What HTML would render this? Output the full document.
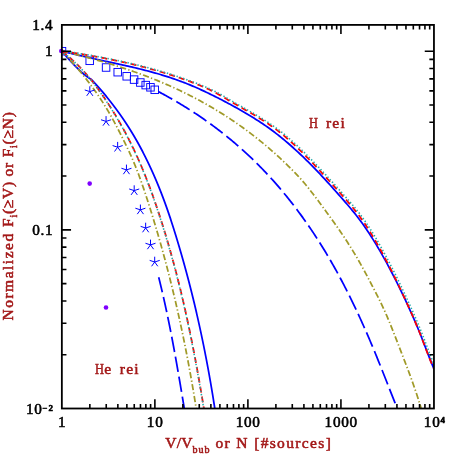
<!DOCTYPE html>
<html><head><meta charset="utf-8"><title>plot</title>
<style>html,body{margin:0;padding:0;background:#fff;}svg{display:block;will-change:transform;}text{font-family:"Liberation Serif",serif;font-weight:normal;stroke-width:0.55px;stroke-linejoin:round;paint-order:stroke fill;}</style></head><body>
<svg width="458" height="458" viewBox="0 0 458 458">
<rect x="0" y="0" width="458" height="458" fill="#ffffff"/>
<defs><clipPath id="clip"><rect x="61.85" y="24.90" width="372.10" height="383.60"/></clipPath></defs>
<g clip-path="url(#clip)" fill="none" stroke="#0000ff" stroke-width="0.95">
<rect x="58.25" y="47.45" width="7.50" height="7.50"/>
<rect x="85.95" y="57.05" width="7.50" height="7.50"/>
<rect x="102.33" y="63.75" width="7.50" height="7.50"/>
<rect x="113.96" y="68.45" width="7.50" height="7.50"/>
<rect x="122.97" y="72.55" width="7.50" height="7.50"/>
<rect x="130.34" y="75.85" width="7.50" height="7.50"/>
<rect x="136.57" y="78.75" width="7.50" height="7.50"/>
<rect x="141.96" y="81.35" width="7.50" height="7.50"/>
<rect x="146.72" y="83.55" width="7.50" height="7.50"/>
<rect x="150.97" y="86.05" width="7.50" height="7.50"/>
</g>
<g clip-path="url(#clip)" fill="none" stroke-linecap="butt" stroke-linejoin="round">
<path d="M61.85 51.00 L63.55 51.46 L65.25 51.91 L66.95 52.35 L68.65 52.79 L70.35 53.23 L72.05 53.65 L73.75 54.07 L75.44 54.49 L77.14 54.90 L78.84 55.30 L80.54 55.70 L82.24 56.10 L83.94 56.49 L85.64 56.88 L87.34 57.26 L89.04 57.64 L90.74 58.02 L92.44 58.40 L94.14 58.77 L95.84 59.14 L97.54 59.51 L99.23 59.88 L100.93 60.25 L102.63 60.61 L104.33 60.98 L106.03 61.34 L107.73 61.71 L109.43 62.07 L111.13 62.44 L112.83 62.81 L114.53 63.17 L116.23 63.54 L117.93 63.91 L119.63 64.29 L121.33 64.66 L123.03 65.04 L124.72 65.42 L126.42 65.80 L128.12 66.19 L129.82 66.58 L131.52 66.97 L133.22 67.37 L134.92 67.77 L136.62 68.18 L138.32 68.59 L140.02 69.01 L141.72 69.43 L143.42 69.86 L145.12 70.29 L146.82 70.73 L148.52 71.18 L150.21 71.63 L151.91 72.10 L153.61 72.57 L155.31 73.04 L157.01 73.53 L158.71 74.02 L160.41 74.52 L162.11 75.04 L163.81 75.56 L165.51 76.09 L167.21 76.63 L168.91 77.18 L170.61 77.74 L172.31 78.31 L174.00 78.89 L175.70 79.48 L177.40 80.09 L179.10 80.70 L180.80 81.33 L182.50 81.97 L184.20 82.62 L185.90 83.29 L187.60 83.97 L189.30 84.66 L191.00 85.36 L192.70 86.08 L194.40 86.81 L196.10 87.55 L197.80 88.30 L199.49 89.06 L201.19 89.83 L202.89 90.61 L204.59 91.41 L206.29 92.21 L207.99 93.02 L209.69 93.84 L211.39 94.67 L213.09 95.51 L214.79 96.36 L216.49 97.22 L218.19 98.08 L219.89 98.96 L221.59 99.84 L223.28 100.73 L224.98 101.62 L226.68 102.52 L228.38 103.43 L230.08 104.34 L231.78 105.27 L233.48 106.19 L235.18 107.13 L236.88 108.07 L238.58 109.02 L240.28 109.98 L241.98 110.95 L243.68 111.93 L245.38 112.92 L247.08 113.93 L248.77 114.94 L250.47 115.97 L252.17 117.01 L253.87 118.07 L255.57 119.14 L257.27 120.22 L258.97 121.32 L260.67 122.44 L262.37 123.57 L264.07 124.73 L265.77 125.90 L267.47 127.09 L269.17 128.30 L270.87 129.53 L272.57 130.78 L274.26 132.05 L275.96 133.34 L277.66 134.66 L279.36 136.00 L281.06 137.36 L282.76 138.75 L284.46 140.15 L286.16 141.58 L287.86 143.03 L289.56 144.50 L291.26 145.99 L292.96 147.51 L294.66 149.04 L296.36 150.59 L298.05 152.16 L299.75 153.75 L301.45 155.36 L303.15 156.99 L304.85 158.64 L306.55 160.30 L308.25 161.99 L309.95 163.69 L311.65 165.40 L313.35 167.13 L315.05 168.88 L316.75 170.65 L318.45 172.43 L320.15 174.22 L321.85 176.03 L323.54 177.86 L325.24 179.70 L326.94 181.55 L328.64 183.41 L330.34 185.28 L332.04 187.17 L333.74 189.06 L335.44 190.97 L337.14 192.88 L338.84 194.80 L340.54 196.73 L342.24 198.67 L343.94 200.61 L345.64 202.57 L347.33 204.53 L349.03 206.52 L350.73 208.53 L352.43 210.57 L354.13 212.65 L355.83 214.78 L357.53 216.96 L359.23 219.20 L360.93 221.50 L362.63 223.85 L364.33 226.26 L366.03 228.72 L367.73 231.24 L369.43 233.82 L371.13 236.45 L372.82 239.13 L374.52 241.86 L376.22 244.65 L377.92 247.49 L379.62 250.38 L381.32 253.32 L383.02 256.31 L384.72 259.35 L386.42 262.44 L388.12 265.58 L389.82 268.77 L391.52 272.00 L393.22 275.28 L394.92 278.60 L396.62 281.97 L398.31 285.39 L400.01 288.85 L401.71 292.35 L403.41 295.90 L405.11 299.49 L406.81 303.12 L408.51 306.80 L410.21 310.54 L411.91 314.34 L413.61 318.20 L415.31 322.13 L417.01 326.15 L418.71 330.24 L420.41 334.43 L422.10 338.71 L423.80 343.09 L425.50 347.53 L427.20 351.97 L428.90 356.37 L430.60 360.68 L432.30 364.84 L434.00 368.80" stroke="#0000ff" stroke-width="1.75"/>
<path d="M61.85 51.00 L62.87 52.26 L63.88 53.50 L64.90 54.72 L65.91 55.92 L66.93 57.09 L67.94 58.25 L68.96 59.38 L69.97 60.50 L70.99 61.60 L72.01 62.69 L73.02 63.76 L74.04 64.81 L75.05 65.85 L76.07 66.87 L77.08 67.89 L78.10 68.90 L79.11 69.90 L80.13 70.88 L81.14 71.84 L82.16 72.76 L83.18 73.64 L84.19 74.48 L85.21 75.28 L86.22 76.04 L87.24 76.77 L88.25 77.47 L89.27 78.15 L90.28 78.79 L91.30 79.40 L92.71 80.90 L94.11 82.41 L95.49 83.91 L96.85 85.41 L98.20 86.91 L99.52 88.42 L100.84 89.92 L102.13 91.42 L103.41 92.92 L104.67 94.43 L105.92 95.93 L107.15 97.43 L108.37 98.94 L109.57 100.44 L110.75 101.94 L111.92 103.44 L113.08 104.95 L114.22 106.45 L115.35 107.95 L116.46 109.45 L117.56 110.96 L118.64 112.46 L119.72 113.96 L120.77 115.47 L121.82 116.97 L122.85 118.47 L123.87 119.97 L124.87 121.48 L125.87 122.98 L126.85 124.48 L127.82 125.98 L128.77 127.49 L129.72 128.99 L130.65 130.49 L131.57 132.00 L132.48 133.50 L133.38 135.00 L134.27 136.50 L135.15 138.01 L136.01 139.51 L136.87 141.01 L137.71 142.52 L138.55 144.02 L139.38 145.52 L140.19 147.02 L141.00 148.53 L141.80 150.03 L142.59 151.53 L143.37 153.03 L144.14 154.54 L144.90 156.04 L145.65 157.54 L146.40 159.05 L147.13 160.55 L147.86 162.05 L148.58 163.55 L149.30 165.06 L150.00 166.56 L150.70 168.06 L151.39 169.56 L152.07 171.07 L152.75 172.57 L153.42 174.07 L154.08 175.58 L154.73 177.08 L155.38 178.58 L156.02 180.08 L156.65 181.59 L157.28 183.09 L157.90 184.59 L158.51 186.09 L159.12 187.60 L159.72 189.10 L160.32 190.60 L160.91 192.11 L161.49 193.61 L162.07 195.11 L162.64 196.61 L163.21 198.12 L163.77 199.62 L164.32 201.12 L164.88 202.62 L165.42 204.13 L165.96 205.63 L166.50 207.13 L167.03 208.64 L167.55 210.14 L168.07 211.64 L168.59 213.14 L169.10 214.65 L169.61 216.15 L170.12 217.65 L170.62 219.15 L171.11 220.66 L171.60 222.16 L172.09 223.66 L172.58 225.17 L173.06 226.67 L173.54 228.17 L174.01 229.67 L174.48 231.18 L174.95 232.68 L175.41 234.18 L175.88 235.68 L176.34 237.19 L176.79 238.69 L177.25 240.19 L177.70 241.70 L178.15 243.20 L178.59 244.70 L179.04 246.20 L179.48 247.71 L179.92 249.21 L180.36 250.71 L180.79 252.22 L181.23 253.72 L181.66 255.22 L182.09 256.72 L182.51 258.23 L182.94 259.73 L183.36 261.23 L183.78 262.73 L184.19 264.24 L184.61 265.74 L185.02 267.24 L185.43 268.75 L185.84 270.25 L186.25 271.75 L186.65 273.25 L187.05 274.76 L187.45 276.26 L187.85 277.76 L188.24 279.26 L188.64 280.77 L189.03 282.27 L189.42 283.77 L189.80 285.28 L190.19 286.78 L190.57 288.28 L190.95 289.78 L191.33 291.29 L191.70 292.79 L192.08 294.29 L192.45 295.79 L192.82 297.30 L193.19 298.80 L193.55 300.30 L193.92 301.81 L194.28 303.31 L194.64 304.81 L194.99 306.31 L195.35 307.82 L195.70 309.32 L196.05 310.82 L196.40 312.32 L196.75 313.83 L197.09 315.33 L197.44 316.83 L197.78 318.34 L198.12 319.84 L198.45 321.34 L198.79 322.84 L199.12 324.35 L199.45 325.85 L199.78 327.35 L200.11 328.85 L200.43 330.36 L200.76 331.86 L201.08 333.36 L201.40 334.87 L201.71 336.37 L202.03 337.87 L202.34 339.37 L202.65 340.88 L202.96 342.38 L203.27 343.88 L203.58 345.38 L203.88 346.89 L204.18 348.39 L204.48 349.89 L204.78 351.40 L205.08 352.90 L205.37 354.40 L205.66 355.90 L205.96 357.41 L206.25 358.91 L206.53 360.41 L206.82 361.92 L207.10 363.42 L207.38 364.92 L207.66 366.42 L207.94 367.93 L208.22 369.43 L208.49 370.93 L208.77 372.43 L209.04 373.94 L209.31 375.44 L209.57 376.94 L209.84 378.45 L210.10 379.95 L210.37 381.45 L210.63 382.95 L210.89 384.46 L211.14 385.96 L211.40 387.46 L211.65 388.96 L211.90 390.47 L212.15 391.97 L212.40 393.47 L212.65 394.98 L212.90 396.48 L213.14 397.98 L213.38 399.48 L213.62 400.99 L213.86 402.49 L214.10 403.99 L214.33 405.49 L214.57 407.00 L214.80 408.50" stroke="#0000ff" stroke-width="1.75"/>
<path d="M158.60 91.70 L159.69 92.28 L160.78 92.86 L161.87 93.44 L162.96 94.03 L164.05 94.62 L165.14 95.22 L166.23 95.82 L167.32 96.42 L168.41 97.03 L169.50 97.64 L170.59 98.26 L171.68 98.88 L172.77 99.50 L173.86 100.13 L174.95 100.76 L176.04 101.40 L177.13 102.04 L178.22 102.68 L179.31 103.33 L180.40 103.99 L181.49 104.65 L182.58 105.31 L183.67 105.98 L184.76 106.65 L185.85 107.33 L186.94 108.01 L188.03 108.69 L189.12 109.38 L190.21 110.08 L191.30 110.78 L192.39 111.48 L193.48 112.19 L194.57 112.91 L195.66 113.63 L196.75 114.35 L197.84 115.08 L198.93 115.82 L200.02 116.56 L201.11 117.30 L202.20 118.05 L203.29 118.81 L204.38 119.57 L205.47 120.34 L206.56 121.11 L207.65 121.89 L208.74 122.67 L209.83 123.46 L210.92 124.25 L212.01 125.05 L213.10 125.86 L214.19 126.67 L215.28 127.48 L216.37 128.31 L217.46 129.13 L218.55 129.97 L219.64 130.81 L220.73 131.65 L221.82 132.50 L222.91 133.36 L224.00 134.22 L225.09 135.09 L226.18 135.97 L227.27 136.85 L228.36 137.74 L229.45 138.63 L230.54 139.54 L231.63 140.44 L232.72 141.36 L233.81 142.28 L234.90 143.20 L235.99 144.13 L237.08 145.07 L238.17 146.02 L239.26 146.98 L240.35 147.94 L241.44 148.90 L242.53 149.88 L243.62 150.86 L244.71 151.85 L245.80 152.85 L246.89 153.85 L247.98 154.87 L249.07 155.89 L250.16 156.91 L251.25 157.95 L252.34 158.99 L253.43 160.05 L254.52 161.11 L255.61 162.17 L256.70 163.25 L257.79 164.34 L258.88 165.43 L259.97 166.53 L261.06 167.64 L262.15 168.76 L263.24 169.89 L264.33 171.03 L265.42 172.17 L266.51 173.33 L267.60 174.49 L268.69 175.67 L269.78 176.85 L270.87 178.04 L271.96 179.25 L273.05 180.46 L274.14 181.68 L275.23 182.91 L276.32 184.15 L277.41 185.40 L278.49 186.66 L279.58 187.94 L280.67 189.22 L281.76 190.51 L282.85 191.81 L283.94 193.13 L285.03 194.45 L286.12 195.78 L287.21 197.13 L288.30 198.48 L289.39 199.85 L290.48 201.23 L291.57 202.62 L292.66 204.02 L293.75 205.43 L294.84 206.85 L295.93 208.28 L297.02 209.73 L298.11 211.19 L299.20 212.66 L300.29 214.14 L301.38 215.63 L302.47 217.13 L303.56 218.65 L304.65 220.18 L305.74 221.72 L306.83 223.28 L307.92 224.84 L309.01 226.42 L310.10 228.02 L311.19 229.62 L312.28 231.24 L313.37 232.88 L314.46 234.53 L315.55 236.19 L316.64 237.87 L317.73 239.56 L318.82 241.26 L319.91 242.99 L321.00 244.72 L322.09 246.47 L323.18 248.24 L324.27 250.02 L325.36 251.82 L326.45 253.63 L327.54 255.46 L328.63 257.30 L329.72 259.17 L330.81 261.04 L331.90 262.94 L332.99 264.85 L334.08 266.78 L335.17 268.72 L336.26 270.69 L337.35 272.67 L338.44 274.67 L339.53 276.68 L340.62 278.72 L341.71 280.77 L342.80 282.84 L343.89 284.93 L344.98 287.03 L346.07 289.16 L347.16 291.30 L348.25 293.47 L349.34 295.65 L350.43 297.85 L351.52 300.07 L352.61 302.31 L353.70 304.56 L354.79 306.84 L355.88 309.13 L356.97 311.45 L358.06 313.78 L359.15 316.13 L360.24 318.51 L361.33 320.90 L362.42 323.31 L363.51 325.74 L364.60 328.19 L365.69 330.65 L366.78 333.14 L367.87 335.65 L368.96 338.18 L370.05 340.73 L371.14 343.30 L372.23 345.88 L373.32 348.49 L374.41 351.12 L375.50 353.77 L376.59 356.43 L377.68 359.12 L378.77 361.81 L379.86 364.53 L380.95 367.25 L382.04 369.99 L383.13 372.73 L384.22 375.49 L385.31 378.25 L386.40 381.01 L387.49 383.78 L388.58 386.55 L389.67 389.32 L390.76 392.09 L391.85 394.86 L392.94 397.62 L394.03 400.38 L395.12 403.13 L396.21 405.87 L397.30 408.60" stroke="#0000ff" stroke-width="1.75" stroke-dasharray="15.5 4.8"/>
<path d="M158.70 277.25 L158.85 277.85 L159.00 278.45 L159.15 279.05 L159.30 279.65 L159.45 280.25 L159.59 280.85 L159.74 281.45 L159.89 282.04 L160.03 282.64 L160.18 283.24 L160.32 283.84 L160.47 284.44 L160.61 285.04 L160.76 285.64 L160.90 286.24 L161.05 286.84 L161.19 287.44 L161.33 288.04 L161.47 288.64 L161.62 289.24 L161.76 289.84 L161.90 290.43 L162.04 291.03 L162.18 291.63 L162.32 292.23 L162.46 292.83 L162.60 293.43 L162.73 294.03 L162.87 294.63 L163.01 295.23 L163.15 295.83 L163.28 296.43 L163.42 297.03 L163.56 297.63 L163.69 298.23 L163.83 298.83 L163.96 299.42 L164.10 300.02 L164.23 300.62 L164.37 301.22 L164.50 301.82 L164.63 302.42 L164.77 303.02 L164.90 303.62 L165.03 304.22 L165.16 304.82 L165.29 305.42 L165.42 306.02 L165.55 306.62 L165.68 307.22 L165.81 307.82 L165.94 308.41 L166.07 309.01 L166.20 309.61 L166.33 310.21 L166.46 310.81 L166.59 311.41 L166.71 312.01 L166.84 312.61 L166.97 313.21 L167.09 313.81 L167.22 314.41 L167.35 315.01 L167.47 315.61 L167.60 316.21 L167.72 316.80 L167.85 317.40 L167.97 318.00 L168.09 318.60 L168.22 319.20 L168.34 319.80 L168.46 320.40 L168.59 321.00 L168.71 321.60 L168.83 322.20 L168.95 322.80 L169.08 323.40 L169.20 324.00 L169.32 324.60 L169.44 325.20 L169.56 325.79 L169.68 326.39 L169.80 326.99 L169.92 327.59 L170.04 328.19 L170.16 328.79 L170.27 329.39 L170.39 329.99 L170.51 330.59 L170.63 331.19 L170.75 331.79 L170.86 332.39 L170.98 332.99 L171.10 333.59 L171.21 334.18 L171.33 334.78 L171.45 335.38 L171.56 335.98 L171.68 336.58 L171.79 337.18 L171.91 337.78 L172.02 338.38 L172.14 338.98 L172.25 339.58 L172.36 340.18 L172.48 340.78 L172.59 341.38 L172.71 341.98 L172.82 342.58 L172.93 343.17 L173.04 343.77 L173.16 344.37 L173.27 344.97 L173.38 345.57 L173.49 346.17 L173.60 346.77 L173.71 347.37 L173.83 347.97 L173.94 348.57 L174.05 349.17 L174.16 349.77 L174.27 350.37 L174.38 350.97 L174.49 351.57 L174.60 352.16 L174.71 352.76 L174.82 353.36 L174.93 353.96 L175.03 354.56 L175.14 355.16 L175.25 355.76 L175.36 356.36 L175.47 356.96 L175.58 357.56 L175.68 358.16 L175.79 358.76 L175.90 359.36 L176.01 359.96 L176.11 360.55 L176.22 361.15 L176.33 361.75 L176.43 362.35 L176.54 362.95 L176.65 363.55 L176.75 364.15 L176.86 364.75 L176.96 365.35 L177.07 365.95 L177.17 366.55 L177.28 367.15 L177.38 367.75 L177.49 368.35 L177.59 368.95 L177.70 369.54 L177.80 370.14 L177.91 370.74 L178.01 371.34 L178.12 371.94 L178.22 372.54 L178.32 373.14 L178.43 373.74 L178.53 374.34 L178.63 374.94 L178.74 375.54 L178.84 376.14 L178.94 376.74 L179.05 377.34 L179.15 377.93 L179.25 378.53 L179.36 379.13 L179.46 379.73 L179.56 380.33 L179.66 380.93 L179.77 381.53 L179.87 382.13 L179.97 382.73 L180.07 383.33 L180.17 383.93 L180.28 384.53 L180.38 385.13 L180.48 385.73 L180.58 386.33 L180.68 386.92 L180.78 387.52 L180.89 388.12 L180.99 388.72 L181.09 389.32 L181.19 389.92 L181.29 390.52 L181.39 391.12 L181.49 391.72 L181.59 392.32 L181.69 392.92 L181.79 393.52 L181.90 394.12 L182.00 394.72 L182.10 395.32 L182.20 395.91 L182.30 396.51 L182.40 397.11 L182.50 397.71 L182.60 398.31 L182.70 398.91 L182.80 399.51 L182.90 400.11 L183.00 400.71 L183.10 401.31 L183.20 401.91 L183.30 402.51 L183.40 403.11 L183.50 403.71 L183.60 404.30 L183.70 404.90 L183.80 405.50 L183.90 406.10 L184.00 406.70 L184.10 407.30 L184.20 407.90 L184.30 408.50" stroke="#0000ff" stroke-width="1.75" stroke-dasharray="15.5 4.8"/>
<path d="M61.85 51.00 L63.49 51.39 L65.13 51.79 L66.77 52.19 L68.41 52.59 L70.05 52.99 L71.70 53.40 L73.34 53.81 L74.98 54.22 L76.62 54.63 L78.26 55.05 L79.90 55.47 L81.54 55.90 L83.18 56.32 L84.82 56.76 L86.46 57.19 L88.10 57.63 L89.74 58.07 L91.39 58.52 L93.03 58.96 L94.67 59.42 L96.31 59.88 L97.95 60.34 L99.59 60.80 L101.23 61.27 L102.87 61.75 L104.51 62.23 L106.15 62.71 L107.79 63.20 L109.44 63.69 L111.08 64.19 L112.72 64.69 L114.36 65.20 L116.00 65.71 L117.64 66.23 L119.28 66.75 L120.92 67.28 L122.56 67.81 L124.20 68.35 L125.84 68.90 L127.48 69.45 L129.13 70.00 L130.77 70.56 L132.41 71.13 L134.05 71.71 L135.69 72.29 L137.33 72.87 L138.97 73.46 L140.61 74.06 L142.25 74.67 L143.89 75.28 L145.53 75.90 L147.18 76.52 L148.82 77.16 L150.46 77.79 L152.10 78.44 L153.74 79.09 L155.38 79.75 L157.02 80.42 L158.66 81.10 L160.30 81.78 L161.94 82.47 L163.58 83.16 L165.22 83.87 L166.87 84.58 L168.51 85.30 L170.15 86.03 L171.79 86.77 L173.43 87.51 L175.07 88.26 L176.71 89.02 L178.35 89.79 L179.99 90.57 L181.63 91.36 L183.27 92.15 L184.92 92.96 L186.56 93.77 L188.20 94.59 L189.84 95.42 L191.48 96.26 L193.12 97.11 L194.76 97.97 L196.40 98.83 L198.04 99.71 L199.68 100.60 L201.32 101.49 L202.96 102.40 L204.61 103.31 L206.25 104.24 L207.89 105.17 L209.53 106.12 L211.17 107.07 L212.81 108.04 L214.45 109.01 L216.09 110.00 L217.73 110.99 L219.37 112.00 L221.01 113.02 L222.66 114.05 L224.30 115.09 L225.94 116.14 L227.58 117.20 L229.22 118.27 L230.86 119.36 L232.50 120.45 L234.14 121.56 L235.78 122.68 L237.42 123.82 L239.06 124.96 L240.70 126.12 L242.35 127.29 L243.99 128.48 L245.63 129.67 L247.27 130.89 L248.91 132.11 L250.55 133.35 L252.19 134.60 L253.83 135.87 L255.47 137.15 L257.11 138.45 L258.75 139.76 L260.39 141.08 L262.04 142.42 L263.68 143.78 L265.32 145.15 L266.96 146.54 L268.60 147.94 L270.24 149.36 L271.88 150.79 L273.52 152.24 L275.16 153.71 L276.80 155.20 L278.44 156.70 L280.09 158.21 L281.73 159.75 L283.37 161.30 L285.01 162.87 L286.65 164.46 L288.29 166.07 L289.93 167.69 L291.57 169.33 L293.21 170.99 L294.85 172.67 L296.49 174.37 L298.13 176.11 L299.78 177.88 L301.42 179.71 L303.06 181.59 L304.70 183.52 L306.34 185.50 L307.98 187.52 L309.62 189.58 L311.26 191.67 L312.90 193.79 L314.54 195.94 L316.18 198.11 L317.83 200.30 L319.47 202.51 L321.11 204.73 L322.75 206.95 L324.39 209.18 L326.03 211.42 L327.67 213.66 L329.31 215.92 L330.95 218.19 L332.59 220.47 L334.23 222.77 L335.87 225.10 L337.52 227.44 L339.16 229.81 L340.80 232.21 L342.44 234.63 L344.08 237.09 L345.72 239.58 L347.36 242.10 L349.00 244.66 L350.64 247.27 L352.28 249.91 L353.92 252.60 L355.57 255.34 L357.21 258.12 L358.85 260.96 L360.49 263.85 L362.13 266.79 L363.77 269.79 L365.41 272.85 L367.05 275.95 L368.69 279.07 L370.33 282.20 L371.97 285.33 L373.61 288.48 L375.26 291.66 L376.90 294.87 L378.54 298.14 L380.18 301.47 L381.82 304.88 L383.46 308.38 L385.10 311.99 L386.74 315.71 L388.38 319.56 L390.02 323.54 L391.66 327.61 L393.31 331.75 L394.95 335.95 L396.59 340.18 L398.23 344.42 L399.87 348.66 L401.51 352.89 L403.15 357.12 L404.79 361.37 L406.43 365.65 L408.07 369.98 L409.71 374.38 L411.35 378.87 L413.00 383.46 L414.64 388.18 L416.28 393.03 L417.92 398.04 L419.56 403.22 L421.20 408.60" stroke="#a09a28" stroke-width="1.75" stroke-dasharray="6.2 2.3 1.3 2.3"/>
<path d="M61.85 51.00 L63.43 52.63 L64.98 54.26 L66.51 55.90 L68.02 57.53 L69.51 59.16 L70.98 60.79 L72.43 62.43 L73.86 64.06 L75.27 65.69 L76.66 67.32 L78.04 68.96 L79.39 70.59 L80.74 72.22 L82.06 73.85 L83.37 75.49 L84.66 77.12 L85.94 78.75 L87.21 80.38 L88.46 82.02 L89.69 83.65 L90.92 85.28 L92.13 86.91 L93.32 88.55 L94.50 90.18 L95.66 91.81 L96.81 93.44 L97.94 95.08 L99.05 96.71 L100.14 98.34 L101.22 99.97 L102.28 101.61 L103.32 103.24 L104.35 104.87 L105.36 106.50 L106.35 108.13 L107.34 109.77 L108.30 111.40 L109.26 113.03 L110.19 114.66 L111.12 116.30 L112.03 117.93 L112.93 119.56 L113.83 121.19 L114.70 122.83 L115.57 124.46 L116.44 126.09 L117.29 127.72 L118.14 129.36 L118.97 130.99 L119.81 132.62 L120.64 134.25 L121.46 135.89 L122.28 137.52 L123.09 139.15 L123.90 140.78 L124.71 142.42 L125.50 144.05 L126.29 145.68 L127.07 147.31 L127.85 148.95 L128.61 150.58 L129.37 152.21 L130.11 153.84 L130.84 155.47 L131.57 157.11 L132.28 158.74 L132.98 160.37 L133.67 162.00 L134.34 163.64 L135.01 165.27 L135.67 166.90 L136.32 168.53 L136.96 170.17 L137.59 171.80 L138.22 173.43 L138.83 175.06 L139.44 176.70 L140.04 178.33 L140.63 179.96 L141.21 181.59 L141.79 183.23 L142.36 184.86 L142.93 186.49 L143.49 188.12 L144.04 189.76 L144.59 191.39 L145.14 193.02 L145.68 194.65 L146.21 196.29 L146.74 197.92 L147.27 199.55 L147.80 201.18 L148.32 202.82 L148.84 204.45 L149.36 206.08 L149.87 207.71 L150.38 209.34 L150.89 210.98 L151.40 212.61 L151.91 214.24 L152.41 215.87 L152.91 217.51 L153.41 219.14 L153.90 220.77 L154.39 222.40 L154.88 224.04 L155.37 225.67 L155.86 227.30 L156.34 228.93 L156.82 230.57 L157.30 232.20 L157.77 233.83 L158.25 235.46 L158.72 237.10 L159.19 238.73 L159.65 240.36 L160.12 241.99 L160.58 243.63 L161.04 245.26 L161.49 246.89 L161.95 248.52 L162.40 250.16 L162.85 251.79 L163.30 253.42 L163.74 255.05 L164.18 256.68 L164.62 258.32 L165.06 259.95 L165.50 261.58 L165.93 263.21 L166.36 264.85 L166.79 266.48 L167.22 268.11 L167.64 269.74 L168.06 271.38 L168.48 273.01 L168.90 274.64 L169.32 276.27 L169.73 277.91 L170.14 279.54 L170.55 281.17 L170.96 282.80 L171.36 284.44 L171.76 286.07 L172.16 287.70 L172.56 289.33 L172.96 290.97 L173.35 292.60 L173.74 294.23 L174.13 295.86 L174.52 297.50 L174.90 299.13 L175.29 300.76 L175.67 302.39 L176.05 304.03 L176.42 305.66 L176.80 307.29 L177.17 308.92 L177.54 310.55 L177.91 312.19 L178.28 313.82 L178.64 315.45 L179.00 317.08 L179.36 318.72 L179.72 320.35 L180.08 321.98 L180.43 323.61 L180.78 325.25 L181.13 326.88 L181.48 328.51 L181.82 330.14 L182.17 331.78 L182.51 333.41 L182.85 335.04 L183.19 336.67 L183.52 338.31 L183.86 339.94 L184.19 341.57 L184.52 343.20 L184.85 344.84 L185.17 346.47 L185.50 348.10 L185.82 349.73 L186.14 351.37 L186.46 353.00 L186.78 354.63 L187.09 356.26 L187.40 357.89 L187.71 359.53 L188.02 361.16 L188.33 362.79 L188.64 364.42 L188.94 366.06 L189.24 367.69 L189.54 369.32 L189.84 370.95 L190.13 372.59 L190.43 374.22 L190.72 375.85 L191.01 377.48 L191.30 379.12 L191.59 380.75 L191.87 382.38 L192.16 384.01 L192.44 385.65 L192.72 387.28 L193.00 388.91 L193.27 390.54 L193.55 392.18 L193.82 393.81 L194.09 395.44 L194.36 397.07 L194.63 398.71 L194.89 400.34 L195.16 401.97 L195.42 403.60 L195.68 405.24 L195.94 406.87 L196.20 408.50" stroke="#a09a28" stroke-width="1.75" stroke-dasharray="6.2 2.3 1.3 2.3"/>
<path d="M61.85 51.00 L63.55 51.26 L65.25 51.51 L66.95 51.78 L68.65 52.04 L70.35 52.30 L72.05 52.57 L73.75 52.84 L75.44 53.11 L77.14 53.39 L78.84 53.67 L80.54 53.95 L82.24 54.23 L83.94 54.52 L85.64 54.81 L87.34 55.10 L89.04 55.40 L90.74 55.70 L92.44 56.00 L94.14 56.31 L95.84 56.61 L97.54 56.93 L99.23 57.24 L100.93 57.57 L102.63 57.89 L104.33 58.22 L106.03 58.55 L107.73 58.89 L109.43 59.23 L111.13 59.57 L112.83 59.92 L114.53 60.27 L116.23 60.63 L117.93 60.99 L119.63 61.36 L121.33 61.73 L123.03 62.10 L124.72 62.49 L126.42 62.87 L128.12 63.26 L129.82 63.66 L131.52 64.06 L133.22 64.46 L134.92 64.88 L136.62 65.29 L138.32 65.71 L140.02 66.14 L141.72 66.57 L143.42 67.01 L145.12 67.46 L146.82 67.91 L148.52 68.36 L150.21 68.83 L151.91 69.29 L153.61 69.77 L155.31 70.25 L157.01 70.74 L158.71 71.23 L160.41 71.73 L162.11 72.23 L163.81 72.75 L165.51 73.27 L167.21 73.79 L168.91 74.33 L170.61 74.87 L172.31 75.41 L174.00 75.97 L175.70 76.53 L177.40 77.10 L179.10 77.67 L180.80 78.25 L182.50 78.85 L184.20 79.44 L185.90 80.05 L187.60 80.66 L189.30 81.29 L191.00 81.92 L192.70 82.56 L194.40 83.22 L196.10 83.89 L197.80 84.57 L199.49 85.27 L201.19 85.98 L202.89 86.71 L204.59 87.46 L206.29 88.22 L207.99 89.01 L209.69 89.81 L211.39 90.64 L213.09 91.49 L214.79 92.36 L216.49 93.25 L218.19 94.18 L219.89 95.12 L221.59 96.09 L223.28 97.09 L224.98 98.09 L226.68 99.11 L228.38 100.13 L230.08 101.14 L231.78 102.14 L233.48 103.13 L235.18 104.11 L236.88 105.09 L238.58 106.06 L240.28 107.03 L241.98 108.00 L243.68 108.96 L245.38 109.93 L247.08 110.90 L248.77 111.87 L250.47 112.86 L252.17 113.84 L253.87 114.84 L255.57 115.85 L257.27 116.87 L258.97 117.91 L260.67 118.96 L262.37 120.02 L264.07 121.11 L265.77 122.21 L267.47 123.34 L269.17 124.49 L270.87 125.67 L272.57 126.87 L274.26 128.10 L275.96 129.36 L277.66 130.65 L279.36 131.97 L281.06 133.32 L282.76 134.71 L284.46 136.12 L286.16 137.56 L287.86 139.03 L289.56 140.53 L291.26 142.05 L292.96 143.60 L294.66 145.17 L296.36 146.76 L298.05 148.38 L299.75 150.02 L301.45 151.67 L303.15 153.35 L304.85 155.04 L306.55 156.76 L308.25 158.49 L309.95 160.23 L311.65 161.99 L313.35 163.77 L315.05 165.55 L316.75 167.35 L318.45 169.16 L320.15 170.98 L321.85 172.81 L323.54 174.65 L325.24 176.50 L326.94 178.36 L328.64 180.22 L330.34 182.10 L332.04 183.98 L333.74 185.87 L335.44 187.77 L337.14 189.67 L338.84 191.58 L340.54 193.50 L342.24 195.42 L343.94 197.35 L345.64 199.28 L347.33 201.22 L349.03 203.18 L350.73 205.16 L352.43 207.18 L354.13 209.25 L355.83 211.38 L357.53 213.56 L359.23 215.83 L360.93 218.16 L362.63 220.57 L364.33 223.04 L366.03 225.58 L367.73 228.19 L369.43 230.87 L371.13 233.60 L372.82 236.40 L374.52 239.26 L376.22 242.17 L377.92 245.15 L379.62 248.17 L381.32 251.25 L383.02 254.39 L384.72 257.57 L386.42 260.80 L388.12 264.08 L389.82 267.41 L391.52 270.77 L393.22 274.19 L394.92 277.64 L396.62 281.13 L398.31 284.66 L400.01 288.22 L401.71 291.82 L403.41 295.45 L405.11 299.11 L406.81 302.81 L408.51 306.54 L410.21 310.32 L411.91 314.16 L413.61 318.07 L415.31 322.05 L417.01 326.11 L418.71 330.27 L420.41 334.53 L422.10 338.89 L423.80 343.37 L425.50 347.90 L427.20 352.41 L428.90 356.82 L430.60 361.08 L432.30 365.10 L434.00 368.80" stroke="#ff0000" stroke-width="1.75" stroke-dasharray="6 4"/>
<path d="M63.85 51.00 L65.55 51.26 L67.25 51.51 L68.95 51.78 L70.65 52.04 L72.35 52.30 L74.05 52.57 L75.75 52.84 L77.44 53.11 L79.14 53.39 L80.84 53.67 L82.54 53.95 L84.24 54.23 L85.94 54.52 L87.64 54.81 L89.34 55.10 L91.04 55.40 L92.74 55.70 L94.44 56.00 L96.14 56.31 L97.84 56.61 L99.54 56.93 L101.23 57.24 L102.93 57.57 L104.63 57.89 L106.33 58.22 L108.03 58.55 L109.73 58.89 L111.43 59.23 L113.13 59.57 L114.83 59.92 L116.53 60.27 L118.23 60.63 L119.93 60.99 L121.63 61.36 L123.33 61.73 L125.03 62.10 L126.72 62.49 L128.42 62.87 L130.12 63.26 L131.82 63.66 L133.52 64.06 L135.22 64.46 L136.92 64.88 L138.62 65.29 L140.32 65.71 L142.02 66.14 L143.72 66.57 L145.42 67.01 L147.12 67.46 L148.82 67.91 L150.52 68.36 L152.21 68.83 L153.91 69.29 L155.61 69.77 L157.31 70.25 L159.01 70.74 L160.71 71.23 L162.41 71.73 L164.11 72.23 L165.81 72.75 L167.51 73.27 L169.21 73.79 L170.91 74.33 L172.61 74.87 L174.31 75.41 L176.00 75.97 L177.70 76.53 L179.40 77.10 L181.10 77.67 L182.80 78.25 L184.50 78.85 L186.20 79.44 L187.90 80.05 L189.60 80.66 L191.30 81.29 L193.00 81.92 L194.70 82.56 L196.40 83.22 L198.10 83.89 L199.80 84.57 L201.49 85.27 L203.19 85.98 L204.89 86.71 L206.59 87.46 L208.29 88.22 L209.99 89.01 L211.69 89.81 L213.39 90.64 L215.09 91.49 L216.79 92.36 L218.49 93.25 L220.19 94.18 L221.89 95.12 L223.59 96.09 L225.28 97.09 L226.98 98.09 L228.68 99.11 L230.38 100.13 L232.08 101.14 L233.78 102.14 L235.48 103.13 L237.18 104.11 L238.88 105.09 L240.58 106.06 L242.28 107.03 L243.98 108.00 L245.68 108.96 L247.38 109.93 L249.08 110.90 L250.77 111.87 L252.47 112.86 L254.17 113.84 L255.87 114.84 L257.57 115.85 L259.27 116.87 L260.97 117.91 L262.67 118.96 L264.37 120.02 L266.07 121.11 L267.77 122.21 L269.47 123.34 L271.17 124.49 L272.87 125.67 L274.57 126.87 L276.26 128.10 L277.96 129.36 L279.66 130.65 L281.36 131.97 L283.06 133.32 L284.76 134.71 L286.46 136.12 L288.16 137.56 L289.86 139.03 L291.56 140.53 L293.26 142.05 L294.96 143.60 L296.66 145.17 L298.36 146.76 L300.05 148.38 L301.75 150.02 L303.45 151.67 L305.15 153.35 L306.85 155.04 L308.55 156.76 L310.25 158.49 L311.95 160.23 L313.65 161.99 L315.35 163.77 L317.05 165.55 L318.75 167.35 L320.45 169.16 L322.15 170.98 L323.85 172.81 L325.54 174.65 L327.24 176.50 L328.94 178.36 L330.64 180.22 L332.34 182.10 L334.04 183.98 L335.74 185.87 L337.44 187.77 L339.14 189.67 L340.84 191.58 L342.54 193.50 L344.24 195.42 L345.94 197.35 L347.64 199.28 L349.33 201.22 L351.03 203.18 L352.73 205.16 L354.43 207.18 L356.13 209.25 L357.83 211.38 L359.53 213.56 L361.23 215.83 L362.93 218.16 L364.63 220.57 L366.33 223.04 L368.03 225.58 L369.73 228.19 L371.43 230.87 L373.13 233.60 L374.82 236.40 L376.52 239.26 L378.22 242.17 L379.92 245.15 L381.62 248.17 L383.32 251.25 L385.02 254.39 L386.72 257.57 L388.42 260.80 L390.12 264.08 L391.82 267.41 L393.52 270.77 L395.22 274.19 L396.92 277.64 L398.62 281.13 L400.31 284.66 L402.01 288.22 L403.71 291.82 L405.41 295.45 L407.11 299.11 L408.81 302.81 L410.51 306.54 L412.21 310.32 L413.91 314.16 L415.61 318.07 L417.31 322.05 L419.01 326.11 L420.71 330.27 L422.41 334.53 L424.10 338.89 L425.80 343.37 L427.50 347.90 L429.20 352.41 L430.90 356.82 L432.60 361.08 L434.30 365.10 L436.00 368.80" stroke="#22aaaa" stroke-width="1.6" stroke-dasharray="1.4 2.0"/>
<path d="M61.85 51.00 L63.88 52.63 L65.86 54.26 L67.80 55.90 L69.68 57.53 L71.51 59.16 L73.30 60.79 L75.05 62.43 L76.74 64.06 L78.40 65.69 L80.01 67.32 L81.59 68.96 L83.12 70.59 L84.62 72.22 L86.07 73.85 L87.50 75.49 L88.88 77.12 L90.24 78.75 L91.56 80.38 L92.85 82.02 L94.11 83.65 L95.35 85.28 L96.57 86.91 L97.76 88.55 L98.94 90.18 L100.11 91.81 L101.26 93.44 L102.40 95.08 L103.53 96.71 L104.64 98.34 L105.74 99.97 L106.83 101.61 L107.91 103.24 L108.98 104.87 L110.03 106.50 L111.07 108.13 L112.10 109.77 L113.12 111.40 L114.12 113.03 L115.12 114.66 L116.10 116.30 L117.07 117.93 L118.03 119.56 L118.98 121.19 L119.92 122.83 L120.85 124.46 L121.77 126.09 L122.68 127.72 L123.58 129.36 L124.46 130.99 L125.34 132.62 L126.21 134.25 L127.06 135.89 L127.91 137.52 L128.75 139.15 L129.58 140.78 L130.40 142.42 L131.21 144.05 L132.01 145.68 L132.80 147.31 L133.58 148.95 L134.36 150.58 L135.12 152.21 L135.88 153.84 L136.63 155.47 L137.37 157.11 L138.10 158.74 L138.83 160.37 L139.54 162.00 L140.25 163.64 L140.96 165.27 L141.65 166.90 L142.34 168.53 L143.02 170.17 L143.69 171.80 L144.36 173.43 L145.02 175.06 L145.67 176.70 L146.31 178.33 L146.95 179.96 L147.59 181.59 L148.22 183.23 L148.84 184.86 L149.45 186.49 L150.06 188.12 L150.67 189.76 L151.26 191.39 L151.86 193.02 L152.45 194.65 L153.03 196.29 L153.61 197.92 L154.18 199.55 L154.75 201.18 L155.31 202.82 L155.87 204.45 L156.43 206.08 L156.98 207.71 L157.52 209.34 L158.07 210.98 L158.61 212.61 L159.14 214.24 L159.67 215.87 L160.20 217.51 L160.73 219.14 L161.25 220.77 L161.77 222.40 L162.28 224.04 L162.79 225.67 L163.30 227.30 L163.80 228.93 L164.31 230.57 L164.80 232.20 L165.30 233.83 L165.79 235.46 L166.28 237.10 L166.77 238.73 L167.25 240.36 L167.73 241.99 L168.20 243.63 L168.68 245.26 L169.15 246.89 L169.61 248.52 L170.08 250.16 L170.54 251.79 L171.00 253.42 L171.45 255.05 L171.90 256.68 L172.35 258.32 L172.80 259.95 L173.24 261.58 L173.68 263.21 L174.12 264.85 L174.56 266.48 L174.99 268.11 L175.42 269.74 L175.85 271.38 L176.27 273.01 L176.69 274.64 L177.11 276.27 L177.52 277.91 L177.94 279.54 L178.35 281.17 L178.76 282.80 L179.16 284.44 L179.56 286.07 L179.96 287.70 L180.36 289.33 L180.76 290.97 L181.15 292.60 L181.54 294.23 L181.93 295.86 L182.31 297.50 L182.70 299.13 L183.08 300.76 L183.45 302.39 L183.83 304.03 L184.20 305.66 L184.57 307.29 L184.94 308.92 L185.31 310.55 L185.67 312.19 L186.04 313.82 L186.40 315.45 L186.75 317.08 L187.11 318.72 L187.46 320.35 L187.81 321.98 L188.16 323.61 L188.51 325.25 L188.85 326.88 L189.20 328.51 L189.54 330.14 L189.88 331.78 L190.21 333.41 L190.55 335.04 L190.88 336.67 L191.21 338.31 L191.54 339.94 L191.87 341.57 L192.19 343.20 L192.52 344.84 L192.84 346.47 L193.16 348.10 L193.48 349.73 L193.79 351.37 L194.11 353.00 L194.42 354.63 L194.73 356.26 L195.04 357.89 L195.35 359.53 L195.65 361.16 L195.96 362.79 L196.26 364.42 L196.56 366.06 L196.86 367.69 L197.16 369.32 L197.46 370.95 L197.75 372.59 L198.04 374.22 L198.34 375.85 L198.63 377.48 L198.92 379.12 L199.20 380.75 L199.49 382.38 L199.77 384.01 L200.06 385.65 L200.34 387.28 L200.62 388.91 L200.90 390.54 L201.18 392.18 L201.46 393.81 L201.73 395.44 L202.01 397.07 L202.28 398.71 L202.55 400.34 L202.82 401.97 L203.09 403.60 L203.36 405.24 L203.63 406.87 L203.90 408.50" stroke="#ff0000" stroke-width="1.75" stroke-dasharray="6 4"/>
<path d="M61.65 51.00 L63.68 52.63 L65.66 54.26 L67.60 55.90 L69.48 57.53 L71.31 59.16 L73.10 60.79 L74.85 62.43 L76.54 64.06 L78.20 65.69 L79.81 67.32 L81.39 68.96 L82.92 70.59 L84.42 72.22 L85.87 73.85 L87.30 75.49 L88.68 77.12 L90.04 78.75 L91.36 80.38 L92.65 82.02 L93.91 83.65 L95.15 85.28 L96.37 86.91 L97.56 88.55 L98.74 90.18 L99.91 91.81 L101.06 93.44 L102.20 95.08 L103.33 96.71 L104.44 98.34 L105.54 99.97 L106.63 101.61 L107.71 103.24 L108.78 104.87 L109.83 106.50 L110.87 108.13 L111.90 109.77 L112.92 111.40 L113.92 113.03 L114.92 114.66 L115.90 116.30 L116.87 117.93 L117.83 119.56 L118.78 121.19 L119.72 122.83 L120.65 124.46 L121.57 126.09 L122.48 127.72 L123.38 129.36 L124.26 130.99 L125.14 132.62 L126.01 134.25 L126.86 135.89 L127.71 137.52 L128.55 139.15 L129.38 140.78 L130.20 142.42 L131.01 144.05 L131.81 145.68 L132.60 147.31 L133.38 148.95 L134.16 150.58 L134.92 152.21 L135.68 153.84 L136.43 155.47 L137.17 157.11 L137.90 158.74 L138.63 160.37 L139.34 162.00 L140.05 163.64 L140.76 165.27 L141.45 166.90 L142.14 168.53 L142.82 170.17 L143.49 171.80 L144.16 173.43 L144.82 175.06 L145.47 176.70 L146.11 178.33 L146.75 179.96 L147.39 181.59 L148.02 183.23 L148.64 184.86 L149.25 186.49 L149.86 188.12 L150.47 189.76 L151.06 191.39 L151.66 193.02 L152.25 194.65 L152.83 196.29 L153.41 197.92 L153.98 199.55 L154.55 201.18 L155.11 202.82 L155.67 204.45 L156.23 206.08 L156.78 207.71 L157.32 209.34 L157.87 210.98 L158.41 212.61 L158.94 214.24 L159.47 215.87 L160.00 217.51 L160.53 219.14 L161.05 220.77 L161.57 222.40 L162.08 224.04 L162.59 225.67 L163.10 227.30 L163.60 228.93 L164.11 230.57 L164.60 232.20 L165.10 233.83 L165.59 235.46 L166.08 237.10 L166.57 238.73 L167.05 240.36 L167.53 241.99 L168.00 243.63 L168.48 245.26 L168.95 246.89 L169.41 248.52 L169.88 250.16 L170.34 251.79 L170.80 253.42 L171.25 255.05 L171.70 256.68 L172.15 258.32 L172.60 259.95 L173.04 261.58 L173.48 263.21 L173.92 264.85 L174.36 266.48 L174.79 268.11 L175.22 269.74 L175.65 271.38 L176.07 273.01 L176.49 274.64 L176.91 276.27 L177.32 277.91 L177.74 279.54 L178.15 281.17 L178.56 282.80 L178.96 284.44 L179.36 286.07 L179.76 287.70 L180.16 289.33 L180.56 290.97 L180.95 292.60 L181.34 294.23 L181.73 295.86 L182.11 297.50 L182.50 299.13 L182.88 300.76 L183.25 302.39 L183.63 304.03 L184.00 305.66 L184.37 307.29 L184.74 308.92 L185.11 310.55 L185.47 312.19 L185.84 313.82 L186.20 315.45 L186.55 317.08 L186.91 318.72 L187.26 320.35 L187.61 321.98 L187.96 323.61 L188.31 325.25 L188.65 326.88 L189.00 328.51 L189.34 330.14 L189.68 331.78 L190.01 333.41 L190.35 335.04 L190.68 336.67 L191.01 338.31 L191.34 339.94 L191.67 341.57 L191.99 343.20 L192.32 344.84 L192.64 346.47 L192.96 348.10 L193.28 349.73 L193.59 351.37 L193.91 353.00 L194.22 354.63 L194.53 356.26 L194.84 357.89 L195.15 359.53 L195.45 361.16 L195.76 362.79 L196.06 364.42 L196.36 366.06 L196.66 367.69 L196.96 369.32 L197.26 370.95 L197.55 372.59 L197.84 374.22 L198.14 375.85 L198.43 377.48 L198.72 379.12 L199.00 380.75 L199.29 382.38 L199.57 384.01 L199.86 385.65 L200.14 387.28 L200.42 388.91 L200.70 390.54 L200.98 392.18 L201.26 393.81 L201.53 395.44 L201.81 397.07 L202.08 398.71 L202.35 400.34 L202.62 401.97 L202.89 403.60 L203.16 405.24 L203.43 406.87 L203.70 408.50" stroke="#22aaaa" stroke-width="1.6" stroke-dasharray="1.4 2.0"/>
</g>
<g fill="none" stroke="#0000ff" stroke-width="1.0">
<path d="M89.80 91.60L89.80 86.30 M89.80 91.60L94.84 89.96 M89.80 91.60L92.92 95.89 M89.80 91.60L86.68 95.89 M89.80 91.60L84.76 89.96"/>
<path d="M106.05 121.40L106.05 116.10 M106.05 121.40L111.09 119.76 M106.05 121.40L109.17 125.69 M106.05 121.40L102.93 125.69 M106.05 121.40L101.01 119.76"/>
<path d="M117.65 147.20L117.65 141.90 M117.65 147.20L122.69 145.56 M117.65 147.20L120.77 151.49 M117.65 147.20L114.53 151.49 M117.65 147.20L112.61 145.56"/>
<path d="M126.45 169.90L126.45 164.60 M126.45 169.90L131.49 168.26 M126.45 169.90L129.57 174.19 M126.45 169.90L123.33 174.19 M126.45 169.90L121.41 168.26"/>
<path d="M134.20 190.60L134.20 185.30 M134.20 190.60L139.24 188.96 M134.20 190.60L137.32 194.89 M134.20 190.60L131.08 194.89 M134.20 190.60L129.16 188.96"/>
<path d="M140.40 209.85L140.40 204.55 M140.40 209.85L145.44 208.21 M140.40 209.85L143.52 214.14 M140.40 209.85L137.28 214.14 M140.40 209.85L135.36 208.21"/>
<path d="M145.65 228.00L145.65 222.70 M145.65 228.00L150.69 226.36 M145.65 228.00L148.77 232.29 M145.65 228.00L142.53 232.29 M145.65 228.00L140.61 226.36"/>
<path d="M150.50 244.90L150.50 239.60 M150.50 244.90L155.54 243.26 M150.50 244.90L153.62 249.19 M150.50 244.90L147.38 249.19 M150.50 244.90L145.46 243.26"/>
<path d="M154.70 262.00L154.70 256.70 M154.70 262.00L159.74 260.36 M154.70 262.00L157.82 266.29 M154.70 262.00L151.58 266.29 M154.70 262.00L149.66 260.36"/>
</g>
<circle cx="61.30" cy="51.00" r="2.3" fill="#7f00ff"/>
<circle cx="89.70" cy="183.60" r="2.3" fill="#7f00ff"/>
<circle cx="106.00" cy="307.50" r="2.3" fill="#7f00ff"/>
<path d="M89.85 408.50L89.85 403.90 M89.85 24.90L89.85 29.50 M106.23 408.50L106.23 403.90 M106.23 24.90L106.23 29.50 M117.86 408.50L117.86 403.90 M117.86 24.90L117.86 29.50 M126.87 408.50L126.87 403.90 M126.87 24.90L126.87 29.50 M134.24 408.50L134.24 403.90 M134.24 24.90L134.24 29.50 M140.47 408.50L140.47 403.90 M140.47 24.90L140.47 29.50 M145.86 408.50L145.86 403.90 M145.86 24.90L145.86 29.50 M150.62 408.50L150.62 403.90 M150.62 24.90L150.62 29.50 M154.88 408.50L154.88 399.30 M154.88 24.90L154.88 34.10 M182.88 408.50L182.88 403.90 M182.88 24.90L182.88 29.50 M199.26 408.50L199.26 403.90 M199.26 24.90L199.26 29.50 M210.88 408.50L210.88 403.90 M210.88 24.90L210.88 29.50 M219.90 408.50L219.90 403.90 M219.90 24.90L219.90 29.50 M227.26 408.50L227.26 403.90 M227.26 24.90L227.26 29.50 M233.49 408.50L233.49 403.90 M233.49 24.90L233.49 29.50 M238.88 408.50L238.88 403.90 M238.88 24.90L238.88 29.50 M243.64 408.50L243.64 403.90 M243.64 24.90L243.64 29.50 M247.90 408.50L247.90 399.30 M247.90 24.90L247.90 34.10 M275.90 408.50L275.90 403.90 M275.90 24.90L275.90 29.50 M292.28 408.50L292.28 403.90 M292.28 24.90L292.28 29.50 M303.91 408.50L303.91 403.90 M303.91 24.90L303.91 29.50 M312.92 408.50L312.92 403.90 M312.92 24.90L312.92 29.50 M320.29 408.50L320.29 403.90 M320.29 24.90L320.29 29.50 M326.52 408.50L326.52 403.90 M326.52 24.90L326.52 29.50 M331.91 408.50L331.91 403.90 M331.91 24.90L331.91 29.50 M336.67 408.50L336.67 403.90 M336.67 24.90L336.67 29.50 M340.93 408.50L340.93 399.30 M340.93 24.90L340.93 34.10 M368.93 408.50L368.93 403.90 M368.93 24.90L368.93 29.50 M385.31 408.50L385.31 403.90 M385.31 24.90L385.31 29.50 M396.93 408.50L396.93 403.90 M396.93 24.90L396.93 29.50 M405.95 408.50L405.95 403.90 M405.95 24.90L405.95 29.50 M413.31 408.50L413.31 403.90 M413.31 24.90L413.31 29.50 M419.54 408.50L419.54 403.90 M419.54 24.90L419.54 29.50 M424.93 408.50L424.93 403.90 M424.93 24.90L424.93 29.50 M429.69 408.50L429.69 403.90 M429.69 24.90L429.69 29.50 M61.85 51.20L71.05 51.20 M433.95 51.20L424.75 51.20 M61.85 229.85L71.05 229.85 M433.95 229.85L424.75 229.85 M61.85 176.07L66.45 176.07 M433.95 176.07L429.35 176.07 M61.85 144.61L66.45 144.61 M433.95 144.61L429.35 144.61 M61.85 122.29L66.45 122.29 M433.95 122.29L429.35 122.29 M61.85 104.98L66.45 104.98 M433.95 104.98L429.35 104.98 M61.85 90.83L66.45 90.83 M433.95 90.83L429.35 90.83 M61.85 78.87L66.45 78.87 M433.95 78.87L429.35 78.87 M61.85 68.51L66.45 68.51 M433.95 68.51L429.35 68.51 M61.85 59.37L66.45 59.37 M433.95 59.37L429.35 59.37 M61.85 354.72L66.45 354.72 M433.95 354.72L429.35 354.72 M61.85 323.26L66.45 323.26 M433.95 323.26L429.35 323.26 M61.85 300.94L66.45 300.94 M433.95 300.94L429.35 300.94 M61.85 283.63L66.45 283.63 M433.95 283.63L429.35 283.63 M61.85 269.48L66.45 269.48 M433.95 269.48L429.35 269.48 M61.85 257.52L66.45 257.52 M433.95 257.52L429.35 257.52 M61.85 247.16L66.45 247.16 M433.95 247.16L429.35 247.16 M61.85 238.02L66.45 238.02 M433.95 238.02L429.35 238.02" stroke="#000" stroke-width="1.6" fill="none"/>
<rect x="61.85" y="24.90" width="372.10" height="383.60" fill="none" stroke="#000" stroke-width="1.80"/>
<g fill="#000" stroke="#000" font-size="14.5" letter-spacing="0.7" style="stroke-width:0.7px">
<text transform="translate(62.15 426.50) scale(1.050 1)" text-anchor="middle">1</text>
<text transform="translate(155.18 426.50) scale(1.050 1)" text-anchor="middle">10</text>
<text transform="translate(248.20 426.50) scale(1.050 1)" text-anchor="middle">100</text>
<text transform="translate(341.23 426.50) scale(1.050 1)" text-anchor="middle">1000</text>
<text transform="translate(434.75 426.50) scale(1.050 1)" text-anchor="middle">10<tspan font-size="8.5" dy="-3.4" font-weight="bold">4</tspan></text>
<text transform="translate(53.40 30.00) scale(1.050 1)" text-anchor="end">1.4</text>
<text transform="translate(53.40 56.00) scale(1.050 1)" text-anchor="end">1</text>
<text transform="translate(53.40 234.80) scale(1.050 1)" text-anchor="end">0.1</text>
<text transform="translate(53.60 414.00) scale(1.050 1)" text-anchor="end">10<tspan font-size="8.5" dy="-3.4" font-weight="bold">−2</tspan></text>
</g>
<g fill="#a31818" stroke="#a31818" font-size="15.5" letter-spacing="1.1" style="stroke-width:0.95px">
<text x="165.3" y="448.4" letter-spacing="1.35"><tspan letter-spacing="0.2">V/V</tspan><tspan font-size="10" dy="4.3" letter-spacing="0.9">bub</tspan><tspan dy="-4.3"> or N [#sources]</tspan></text>
<text transform="translate(12.8 320.5) rotate(-90)" letter-spacing="0.75"><tspan letter-spacing="1.5">Normalized </tspan>F<tspan font-size="10" dy="4">i</tspan><tspan dy="-4">(≥V) or F</tspan><tspan font-size="10" dy="4">i</tspan><tspan dy="-4">(≥N)</tspan></text>
<text transform="translate(308.9 127.8) scale(0.8 1)">H</text>
<text x="326.0" y="127.8" letter-spacing="1.2">rei</text>
<text transform="translate(94.9 374) scale(0.8 1)">H</text>
<text x="104.3" y="374" letter-spacing="1.2">e</text>
<text x="119.8" y="374" letter-spacing="1.2">rei</text>
</g>
</svg></body></html>
